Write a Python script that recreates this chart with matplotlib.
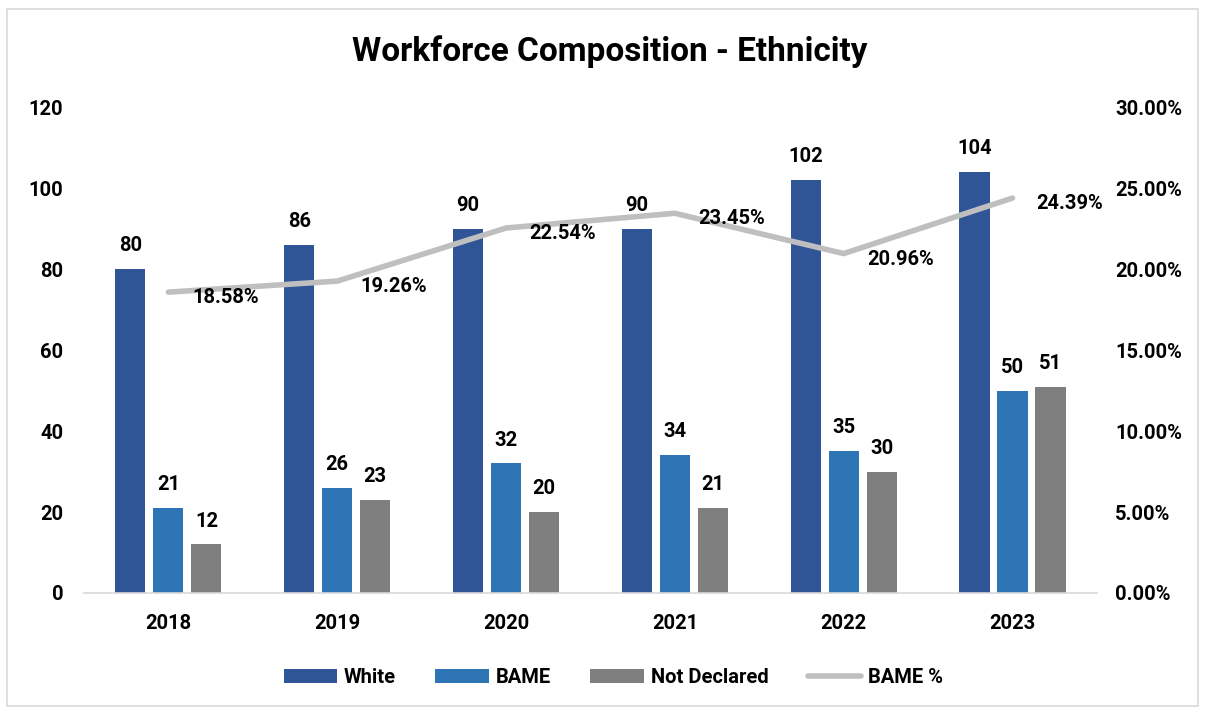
import numpy as np
import matplotlib.pyplot as plt
from matplotlib.patches import Rectangle

plt.rcParams['font.family'] = ['Roboto', 'DejaVu Sans']
plt.rcParams['font.weight'] = 'bold'

years = ['2018', '2019', '2020', '2021', '2022', '2023']
white = [80, 86, 90, 90, 102, 104]
bame = [21, 26, 32, 34, 35, 50]
not_declared = [12, 23, 20, 21, 30, 51]
bame_pct = [18.58, 19.26, 22.54, 23.45, 20.96, 24.39]

c_white = '#2F5597'
c_bame = '#2E75B6'
c_nd = '#7F7F7F'
c_line = '#BFBFBF'
fs = 14.5

fig = plt.figure(figsize=(12.05, 7.1), dpi=100)
fig.patches.append(Rectangle((0.006, 0.006), 0.988, 0.982, transform=fig.transFigure,
                             fill=False, edgecolor='#D9D9D9', linewidth=1.2))
ax = fig.add_axes([0.0697, 0.1648, 0.8406, 0.6842])
ax2 = ax.twinx()

x = np.arange(len(years))
w = 0.178
off = 0.225
b1 = ax.bar(x - off, white, w, color=c_white, label='White')
b2 = ax.bar(x, bame, w, color=c_bame, label='BAME')
b3 = ax.bar(x + off, not_declared, w, color=c_nd, label='Not Declared')
for bars in (b1, b2, b3):
    ax.bar_label(bars, padding=10, fontsize=fs, fontweight='bold')

ax.set_xlim(-0.5, len(years) - 0.5)
ax.set_ylim(0, 120)
ax.set_yticks(range(0, 121, 20))
ax.set_xticks(x)
ax.set_xticklabels(years)
for s in ['top', 'left', 'right']:
    ax.spines[s].set_visible(False)
ax.spines['bottom'].set_color('#D9D9D9')
ax.spines['bottom'].set_linewidth(1.2)
ax.tick_params(axis='both', length=0, labelsize=fs)
ax.tick_params(axis='y', pad=15)
ax.tick_params(axis='x', pad=15)

ln, = ax2.plot(x, bame_pct, color=c_line, linewidth=4, solid_capstyle='round', label='BAME %')
for xi, v in zip(x, bame_pct):
    ax2.annotate(f'{v:.2f}%', (xi, v), xytext=(17, -4), textcoords='offset points',
                 ha='left', va='center', fontsize=fs, fontweight='bold')
ax2.set_ylim(0, 30)
ax2.set_yticks(range(0, 31, 5))
ax2.set_yticklabels([f'{t:.2f}%' for t in range(0, 31, 5)])
for s in ax2.spines.values():
    s.set_visible(False)
ax2.tick_params(axis='y', length=0, labelsize=fs, pad=13)

fig.text(0.506, 0.927, 'Workforce Composition - Ethnicity', ha='center', va='center',
         fontsize=24, fontweight='bold')

handles = [b1, b2, b3, ln]
fig.legend(handles, [h.get_label() for h in handles], loc='center', bbox_to_anchor=(0.509, 0.046),
           ncol=4, frameon=False, fontsize=fs, handlelength=2.65, columnspacing=1.95, handletextpad=0.35)

fig.savefig('out.png', dpi=100)
